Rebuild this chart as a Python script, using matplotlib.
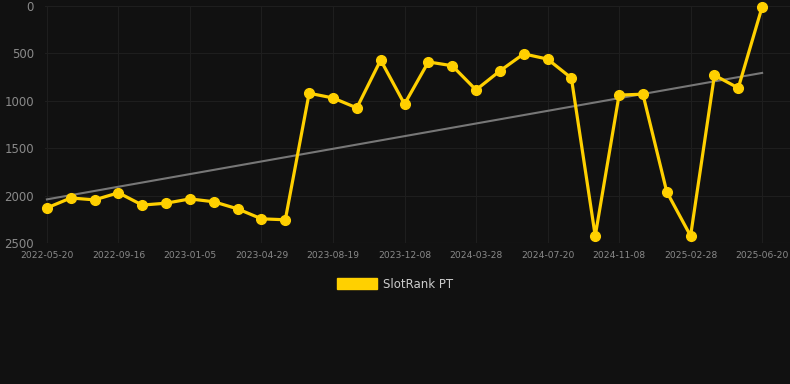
import numpy as np
import matplotlib.pyplot as plt

# rank values, one point per period (lower rank = better, axis inverted)
ranks = [2130, 2025, 2045, 1970, 2100, 2080, 2035, 2065, 2140, 2245, 2255,
         920, 970, 1075, 570, 1035, 590, 630, 885, 685, 505, 560, 760,
         2425, 940, 930, 1960, 2425, 730, 865, 10]
tick_labels = ['2022-05-20', '2022-09-16', '2023-01-05', '2023-04-29',
               '2023-08-19', '2023-12-08', '2024-03-28', '2024-07-20',
               '2024-11-08', '2025-02-28', '2025-06-20']
series_name = 'SlotRank PT'

x = np.arange(len(ranks))
y = np.array(ranks)

# linear trend
k, b = np.polyfit(x, y, 1)
trend = k * x + b

bg = '#111111'
fig = plt.figure(figsize=(7.9, 3.84), dpi=100, facecolor=bg)
ax = fig.add_axes([45/790, 1 - 243/384, 745/790, (243 - 6)/384])
ax.set_facecolor(bg)

ax.plot(x, trend, color='#777777', lw=1.5, zorder=2)
ax.plot(x, y, color='#FFD000', lw=2.3, marker='o', markersize=7,
        zorder=3, clip_on=False)

ax.set_ylim(2500, 0)
ax.set_xlim(-0.08, 31.17)
ax.set_yticks([0, 500, 1000, 1500, 2000, 2500])
ax.set_xticks(x[::3])
ax.set_xticklabels(tick_labels)

ax.grid(True, color='#1e1e1e', lw=0.8)
for s in ax.spines.values():
    s.set_visible(False)
ax.axhline(2500, color='#262626', lw=0.8)
ax.tick_params(axis='y', length=0, colors='#8a8a8a', labelsize=8.5, pad=8)
ax.tick_params(axis='x', length=0, colors='#8a8a8a', labelsize=6.6, pad=6)

fig.legend([plt.Rectangle((0, 0), 1, 1, color='#FFD000')], [series_name],
           loc='center', bbox_to_anchor=(0.5, 1 - 284/384), frameon=False,
           fontsize=8.5, handlelength=3.4, handleheight=1.1,
           handletextpad=0.5, labelcolor='#cccccc')

fig.savefig('out.png', facecolor=bg)
